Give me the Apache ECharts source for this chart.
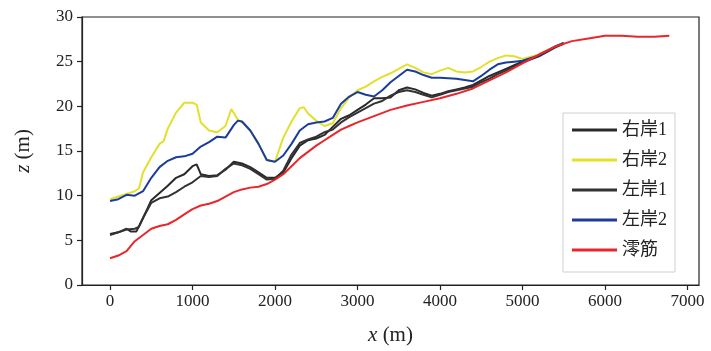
<!DOCTYPE html>
<html>
<head>
<meta charset="utf-8">
<script src="https://cdn.jsdelivr.net/npm/echarts@6/dist/echarts.min.js"></script>
<style>
  html, body { margin: 0; padding: 0; background: #fff; }
  #chart { width: 711px; height: 351px; }
</style>
</head>
<body>
<div id="chart"></div>
<script>
// [x (m), z (m)]
const rightBank1 = [[0,5.7],[100,5.9],[200,6.3],[250,6.0],[320,6.0],[400,7.5],[450,8.5],[500,9.5],[600,10.3],[700,11.1],[800,12.0],[900,12.4],[1000,13.3],[1050,13.5],[1100,12.4],[1200,12.2],[1300,12.3],[1400,12.9],[1500,13.8],[1600,13.6],[1700,13.2],[1800,12.6],[1900,12.0],[2000,12.0],[2100,12.6],[2200,14.2],[2300,15.6],[2400,16.2],[2500,16.4],[2600,16.8],[2700,17.7],[2800,18.6],[2900,19.0],[3000,19.6],[3100,20.2],[3200,20.9],[3300,20.9],[3400,21.0],[3500,21.8],[3600,22.1],[3700,21.9],[3800,21.5],[3900,21.2],[4000,21.4],[4100,21.7],[4200,21.9],[4300,22.1],[4400,22.4],[4500,22.9],[4600,23.4],[4700,23.8],[4800,24.2],[4900,24.6],[5000,25.0],[5200,25.7],[5400,26.7],[5500,27.1]];
const rightBank2 = [[0,9.6],[100,9.9],[200,10.2],[300,10.5],[350,10.8],[400,12.6],[500,14.3],[600,15.8],[650,16.1],[700,17.5],[800,19.3],[900,20.4],[1000,20.4],[1050,20.2],[1100,18.2],[1200,17.3],[1300,17.1],[1400,17.8],[1470,19.7],[1550,18.5],[1600,18.2],[1700,17.3],[1800,15.8],[1900,14.0],[2000,13.8],[2100,16.5],[2200,18.3],[2300,19.8],[2350,19.9],[2400,19.2],[2500,18.4],[2600,17.8],[2700,18.1],[2800,19.8],[2900,21.0],[3000,21.8],[3100,22.2],[3200,22.8],[3300,23.3],[3400,23.7],[3500,24.2],[3600,24.7],[3700,24.3],[3800,23.8],[3900,23.6],[4000,24.0],[4100,24.3],[4200,23.9],[4300,23.8],[4400,23.9],[4500,24.4],[4600,25.0],[4700,25.4],[4800,25.7],[4900,25.6],[5000,25.3],[5200,25.8],[5400,26.7],[5500,27.1]];
const leftBank1 = [[0,5.6],[100,5.9],[200,6.2],[300,6.3],[350,6.5],[400,7.5],[500,9.2],[600,9.7],[700,9.9],[800,10.4],[900,11.0],[1000,11.5],[1100,12.2],[1200,12.1],[1300,12.2],[1400,13.0],[1500,13.6],[1600,13.4],[1700,13.0],[1800,12.4],[1900,11.8],[2000,11.9],[2100,12.8],[2200,14.6],[2300,15.9],[2400,16.3],[2500,16.6],[2600,17.1],[2700,17.4],[2800,18.2],[2900,18.8],[3000,19.3],[3100,19.8],[3200,20.3],[3300,20.6],[3400,21.2],[3500,21.6],[3600,21.8],[3700,21.6],[3800,21.3],[3900,21.0],[4000,21.3],[4100,21.6],[4200,21.8],[4300,22.0],[4400,22.2],[4500,22.7],[4600,23.1],[4700,23.6],[4800,24.0],[4900,24.5],[5000,24.9],[5200,25.6],[5400,26.6],[5500,27.0]];
const leftBank2 = [[0,9.4],[100,9.6],[200,10.1],[300,10.0],[400,10.5],[500,12.0],[600,13.2],[700,13.9],[800,14.3],[900,14.4],[1000,14.7],[1100,15.5],[1200,16.0],[1300,16.6],[1400,16.5],[1500,17.9],[1550,18.4],[1600,18.3],[1700,17.3],[1800,15.8],[1900,14.0],[2000,13.8],[2100,14.5],[2200,15.8],[2300,17.3],[2400,18.0],[2500,18.2],[2600,18.3],[2700,18.7],[2800,20.3],[2900,21.1],[3000,21.6],[3100,21.3],[3200,21.1],[3300,21.8],[3400,22.7],[3500,23.4],[3600,24.1],[3700,23.9],[3800,23.5],[3900,23.2],[4000,23.2],[4200,23.1],[4400,22.8],[4500,23.4],[4600,24.1],[4700,24.7],[4800,24.9],[4900,25.0],[5000,25.1],[5200,25.7],[5400,26.7],[5500,27.1]];
const thalweg = [[0,3.0],[100,3.3],[200,3.8],[300,4.9],[400,5.6],[500,6.3],[600,6.6],[700,6.8],[800,7.3],[900,7.9],[1000,8.5],[1100,8.9],[1200,9.1],[1300,9.4],[1400,9.9],[1500,10.4],[1600,10.7],[1700,10.9],[1800,11.0],[1900,11.3],[2000,11.8],[2100,12.4],[2200,13.3],[2300,14.2],[2400,14.9],[2500,15.6],[2600,16.2],[2700,16.8],[2800,17.4],[2900,17.8],[3000,18.2],[3200,18.9],[3400,19.6],[3600,20.1],[3800,20.5],[4000,20.9],[4200,21.4],[4400,22.0],[4600,22.9],[4800,23.8],[5000,24.8],[5200,25.8],[5400,26.7],[5600,27.3],[5800,27.6],[6000,27.9],[6200,27.9],[6400,27.8],[6600,27.8],[6780,27.9]];

const xTicks = [0, 1000, 2000, 3000, 4000, 5000, 6000, 7000];
const seriesNames = ['右岸1', '右岸2', '左岸1', '左岸2', '澪筋'];
const seriesColors = ['#2a2a2a', '#e2e02c', '#333333', '#1c3c9c', '#e8262c'];
const seriesData = [rightBank1, rightBank2, leftBank1, leftBank2, thalweg];

const fontFamily = '"Liberation Serif", "Noto Sans CJK SC", serif';

const chart = echarts.init(document.getElementById('chart'));

const axisCommon = {
    axisLine: { show: true, onZero: false, lineStyle: { color: '#222', width: 1.2 } },
    axisTick: { show: true, inside: false, length: 5, lineStyle: { color: '#222', width: 1.2 } },
    splitLine: { show: false },
    axisLabel: { color: '#222', fontSize: 17, fontFamily: fontFamily }
};

const nameStyle = {
    fontFamily: fontFamily, fontSize: 21, color: '#222',
    rich: { i: { fontStyle: 'italic', fontFamily: fontFamily, fontSize: 21, color: '#222' } }
};

const option = {
    animation: false,
    backgroundColor: '#fff',
    grid: {
        left: 82, right: 12, top: 17, bottom: 65,
        show: true, borderColor: '#222', borderWidth: 1.2
    },
    legend: {
        orient: 'vertical',
        left: 563,
        top: 113,
        width: 124,
        padding: [7, 8, 12, 9],
        backgroundColor: '#fff',
        borderColor: '#d0d0d0',
        borderWidth: 1,
        icon: 'rect',
        itemWidth: 45,
        itemHeight: 3,
        itemGap: 10,
        textStyle: { fontFamily: fontFamily, fontSize: 18, color: '#222', lineHeight: 20 },
        data: seriesNames
    },
    xAxis: Object.assign({}, axisCommon, {
        type: 'value',
        min: -340,
        max: 7140,
        axisTick: Object.assign({}, axisCommon.axisTick, { customValues: xTicks }),
        axisLabel: Object.assign({}, axisCommon.axisLabel, {
            customValues: xTicks, margin: 8,
            formatter: (v) => String(v)
        }),
        name: '{i|x} (m)',
        nameLocation: 'middle',
        nameGap: 40,
        nameTextStyle: nameStyle
    }),
    yAxis: Object.assign({}, axisCommon, {
        type: 'value',
        min: 0,
        max: 30,
        interval: 5,
        axisLabel: Object.assign({}, axisCommon.axisLabel, { margin: 9 }),
        name: '{i|z} (m)',
        nameLocation: 'middle',
        nameGap: 48,
        nameTextStyle: nameStyle
    }),
    series: seriesNames.map((name, i) => ({
        name: name,
        type: 'line',
        data: seriesData[i],
        showSymbol: false,
        symbol: 'none',
        color: seriesColors[i],
        lineStyle: { color: seriesColors[i], width: 2 }
    }))
};

chart.setOption(option);
</script>
</body>
</html>
